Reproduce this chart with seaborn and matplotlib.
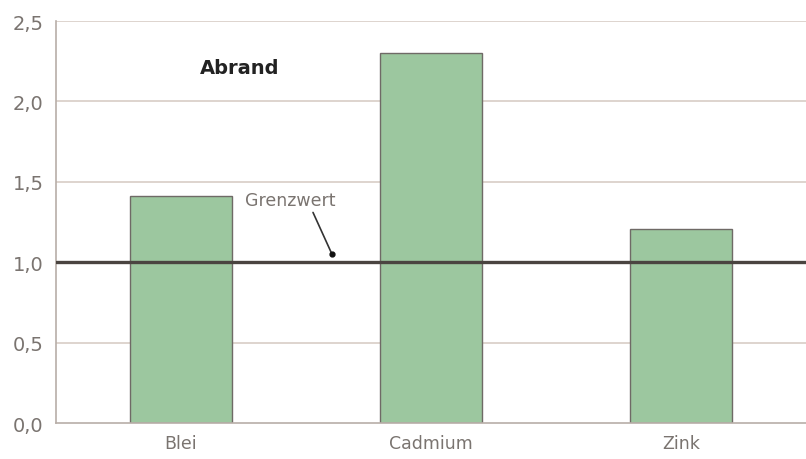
import numpy as np
import pandas as pd
import matplotlib
matplotlib.use('Agg')
import matplotlib.pyplot as plt
import matplotlib.ticker as mticker
import seaborn as sns

# ==================== 数据 ====================
metalle = ['Blei', 'Cadmium', 'Zink']
werte = [1.41, 2.30, 1.21]
grenzwert = 1.0
y_ticks = [0.0, 0.5, 1.0, 1.5, 2.0, 2.5]

sns.set_style('white')
plt.rcParams['font.family'] = ['DejaVu Sans']

text_farbe = '#7a7470'
gitter_farbe = '#d8cdc6'

fig = plt.figure(figsize=(8.06, 4.6), dpi=100)
ax = fig.add_axes([0.0695, 0.078, 0.9305, 0.874])

df = pd.DataFrame({'Metall': metalle, 'Wert': werte})

# 网格线
for t in y_ticks[1:]:
    ax.axhline(t, color=gitter_farbe, linewidth=1.2, zorder=0)

sns.barplot(data=df, x='Metall', y='Wert', color='#9cc79f', width=0.41,
            edgecolor='#6f6a66', linewidth=1.0, saturation=1, ax=ax, zorder=2)

# 极限值线
ax.axhline(grenzwert, color='#4a4440', linewidth=2.4, zorder=3)

ax.set_ylim(0, 2.5)
ax.set_xlim(-0.5, 2.5)
ax.set_yticks(y_ticks)
ax.yaxis.set_major_formatter(mticker.FuncFormatter(lambda v, p: f'{v:.1f}'.replace('.', ',')))
ax.set_xticks([0.5, 1.5], minor=True)
ax.tick_params(axis='x', which='major', length=0, pad=8, labelsize=12.5, labelcolor=text_farbe)
ax.tick_params(axis='x', which='minor', length=5, color='#b8aea8', width=1, direction='out')
ax.tick_params(axis='y', which='major', length=4, color='#b8aea8', width=1, direction='out',
               labelsize=14, labelcolor=text_farbe, pad=5)
ax.set_xlabel('')
ax.set_ylabel('')

for s in ['top', 'right']:
    ax.spines[s].set_visible(False)
for s in ['left', 'bottom']:
    ax.spines[s].set_color('#b8aea8')
    ax.spines[s].set_linewidth(1.2)

ax.text(0.076, 2.214, 'Abrand', fontsize=14, fontweight='bold', color='#222222', va='center')
ax.text(0.256, 1.387, 'Grenzwert', fontsize=12.5, color=text_farbe, ha='left', va='center')
ax.plot([0.528, 0.604], [1.31, 1.05], color='#333333', lw=1.2, zorder=4)
ax.plot([0.604], [1.05], marker='o', markersize=3.5, color='#111111', zorder=4)

plt.savefig('out.png', dpi=100)
